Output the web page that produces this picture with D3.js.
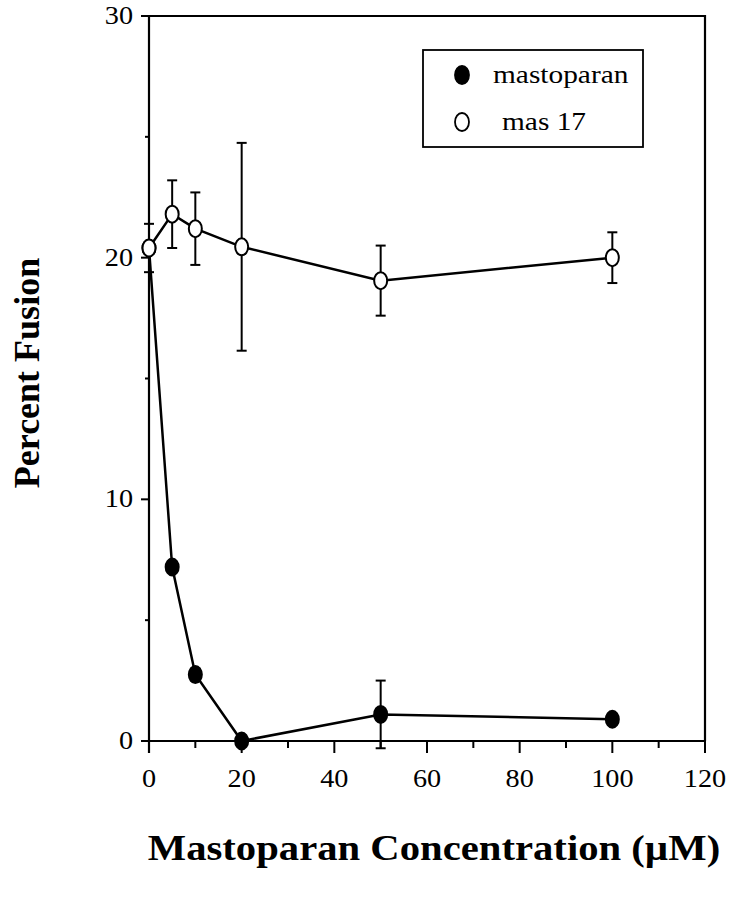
<!DOCTYPE html>
<html>
<head>
<meta charset="utf-8">
<script src="https://cdn.jsdelivr.net/npm/d3@7"></script>
<style>
  body { margin: 0; background: #fff; }
</style>
</head>
<body>
<div id="chart"></div>
<script>
// data
const concentrations = [0, 5, 10, 20, 50, 100];
const mastoparanValues = [20.4, 7.2, 2.75, 0, 1.1, 0.9];
const mastoparanErrors = [0, 0, 0.25, 0, 1.4, 0];
const mas17Values = [20.4, 21.8, 21.2, 20.45, 19.05, 20.0];
const mas17Errors = [1.0, 1.4, 1.5, 4.3, 1.45, 1.05];
const xTicks = [0, 20, 40, 60, 80, 100, 120];
const xMinorTicks = [10, 30, 50, 70, 90, 110];
const yTicks = [0, 10, 20, 30];
const yMinorTicks = [5, 15, 25];
const legendLabels = ["mastoparan", "mas 17"];

const W = 740, H = 899;
const SX = 1.13; // the scan is a bit wider than tall
const font = "Liberation Serif";

const svg = d3.select("#chart").append("svg")
    .attr("width", W).attr("height", H);

const x = d3.scaleLinear().domain([0, 120]).range([149, 705]);
const y = d3.scaleLinear().domain([0, 30]).range([741, 16]);

// frame: top and right edges
svg.append("path")
    .attr("d", `M${x(0) - 8},${y(30)}H${x(120)}V${y(0)}`)
    .attr("fill", "none").attr("stroke", "#000").attr("stroke-width", 2.2);

// bottom axis
const gx = svg.append("g").attr("transform", `translate(0,${y(0)})`);
gx.append("line").attr("x1", x(0) - 8).attr("x2", x(120))
    .attr("stroke", "#000").attr("stroke-width", 2.2);
gx.selectAll(".maj").data(xTicks).join("line")
    .attr("x1", d => x(d)).attr("x2", d => x(d)).attr("y1", 0).attr("y2", 12)
    .attr("stroke", "#000").attr("stroke-width", 2);
gx.selectAll(".min").data(xMinorTicks).join("line")
    .attr("x1", d => x(d)).attr("x2", d => x(d)).attr("y1", 0).attr("y2", 7)
    .attr("stroke", "#000").attr("stroke-width", 2);
gx.selectAll("text").data(xTicks).join("text")
    .attr("transform", d => `translate(${x(d)},46) scale(${SX},1)`)
    .attr("text-anchor", "middle")
    .attr("font-family", font).attr("font-size", 25)
    .text(d => d);

// left axis
const gy = svg.append("g").attr("transform", `translate(${x(0)},0)`);
gy.append("line").attr("y1", y(30)).attr("y2", y(0) + 12)
    .attr("stroke", "#000").attr("stroke-width", 2.2);
gy.selectAll(".maj").data(yTicks).join("line")
    .attr("x1", -8).attr("x2", 0).attr("y1", d => y(d)).attr("y2", d => y(d))
    .attr("stroke", "#000").attr("stroke-width", 2);
gy.selectAll(".min").data(yMinorTicks).join("line")
    .attr("x1", -4).attr("x2", 0).attr("y1", d => y(d)).attr("y2", d => y(d))
    .attr("stroke", "#000").attr("stroke-width", 2);
gy.selectAll("text").data(yTicks).join("text")
    .attr("transform", d => `translate(-16,${y(d) + 8}) scale(${SX},1)`)
    .attr("text-anchor", "end")
    .attr("font-family", font).attr("font-size", 25)
    .text(d => d);

// axis titles
svg.append("text")
    .attr("transform", `translate(434,860) scale(${SX},1)`)
    .attr("text-anchor", "middle")
    .attr("font-family", font).attr("font-size", 36).attr("font-weight", "bold")
    .text("Mastoparan Concentration (\u00b5M)");
svg.append("text")
    .attr("transform", "translate(39,373) rotate(-90)")
    .attr("text-anchor", "middle")
    .attr("font-family", font).attr("font-size", 36).attr("font-weight", "bold")
    .text("Percent Fusion");

const line = d3.line().x(d => x(d[0])).y(d => y(d[1]));

function drawSeries(vals, errs, filled) {
    const pts = concentrations.map((c, i) => [c, vals[i], errs[i]]);
    const g = svg.append("g");
    g.append("path").datum(pts).attr("d", line)
        .attr("fill", "none").attr("stroke", "#000").attr("stroke-width", 2.5);
    const eb = g.selectAll(".err").data(pts.filter(p => p[2] > 0)).join("g");
    eb.append("line")
        .attr("x1", d => x(d[0])).attr("x2", d => x(d[0]))
        .attr("y1", d => y(d[1] - d[2])).attr("y2", d => y(d[1] + d[2]))
        .attr("stroke", "#000").attr("stroke-width", 2);
    [1, -1].forEach(s => {
        eb.append("line")
            .attr("x1", d => x(d[0]) - 5).attr("x2", d => x(d[0]) + 5)
            .attr("y1", d => y(d[1] + s * d[2])).attr("y2", d => y(d[1] + s * d[2]))
            .attr("stroke", "#000").attr("stroke-width", 2);
    });
    g.selectAll("ellipse").data(pts).join("ellipse")
        .attr("cx", d => x(d[0])).attr("cy", d => y(d[1]))
        .attr("rx", 6.5).attr("ry", 8.5)
        .attr("fill", filled ? "#000" : "#fff")
        .attr("stroke", "#000").attr("stroke-width", 2);
}

drawSeries(mastoparanValues, mastoparanErrors, true);
drawSeries(mas17Values, mas17Errors, false);

// legend
const lg = svg.append("g");
lg.append("rect").attr("x", 423).attr("y", 50).attr("width", 220).attr("height", 97)
    .attr("fill", "#fff").attr("stroke", "#000").attr("stroke-width", 1.8);
const items = lg.selectAll(".item").data(legendLabels).join("g")
    .attr("transform", (d, i) => `translate(462,${75 + i * 47})`);
items.append("ellipse").attr("rx", 7).attr("ry", 9)
    .attr("fill", (d, i) => i === 0 ? "#000" : "#fff")
    .attr("stroke", "#000").attr("stroke-width", 1.8);
items.append("text")
    .attr("transform", (d, i) => `translate(${i === 0 ? 31 : 40},8) scale(${SX},1)`)
    .attr("font-family", font).attr("font-size", 26)
    .text(d => d);
</script>
</body>
</html>
